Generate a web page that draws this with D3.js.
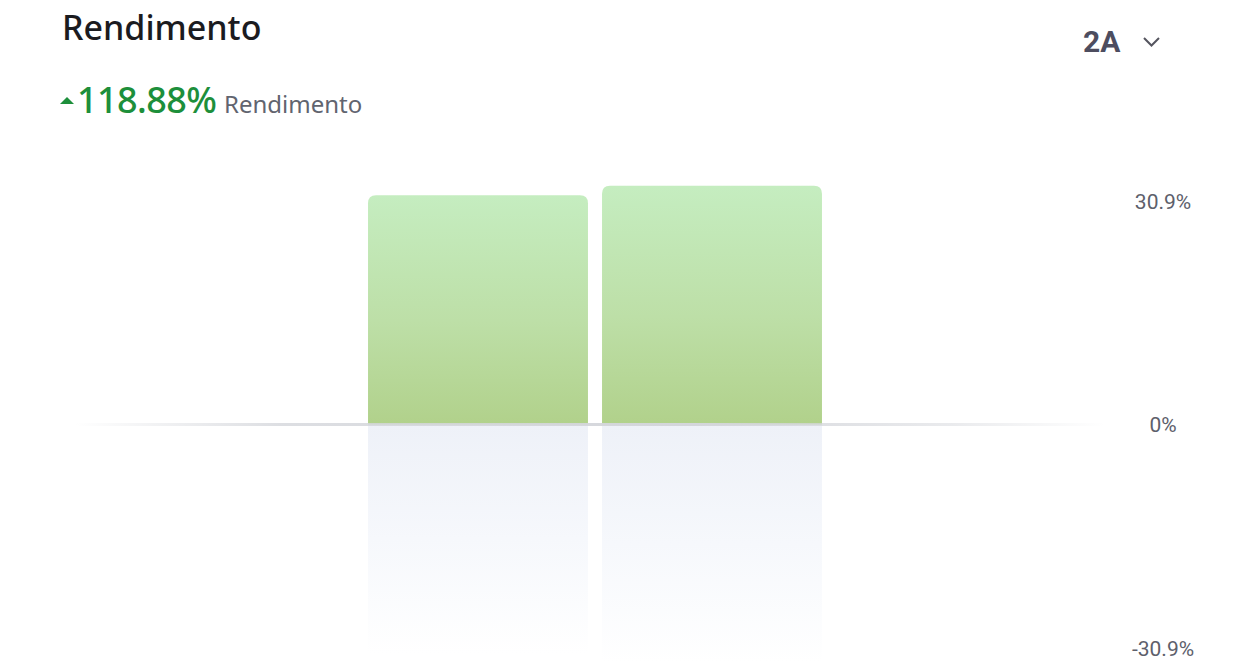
<!DOCTYPE html>
<html>
<head>
<meta charset="utf-8">
<script src="https://cdn.jsdelivr.net/npm/d3@7"></script>
<style>
  html, body { margin: 0; padding: 0; background: #ffffff; }
  svg { display: block; }
</style>
</head>
<body>
<svg id="chart" width="1256" height="668"></svg>
<script>
// ---- data ----
const categories = ["2023", "2024"];
const values = [31.7, 33.0];
const yTicks = [30.9, 0, -30.9];
const tickLabels = ["30.9%", "0%", "-30.9%"];
const titleText = "Rendimento";
const totalReturn = "118.88%";
const subtitleText = "Rendimento";
const periodLabel = "2A";

const svg = d3.select("#chart");

// scales
const y = d3.scaleLinear().domain([-30.9, 30.9]).range([648, 201]);
const x = d3.scaleBand().domain(categories).range([361, 829]).paddingInner(0.06).paddingOuter(0.03);

const defs = svg.append("defs");
const gBar = defs.append("linearGradient").attr("id", "barGrad").attr("x1", 0).attr("y1", 0).attr("x2", 0).attr("y2", 1);
gBar.append("stop").attr("offset", "0%").attr("stop-color", "#c5edc0");
gBar.append("stop").attr("offset", "55%").attr("stop-color", "#bddfa7");
gBar.append("stop").attr("offset", "100%").attr("stop-color", "#b1d18b");

const gRef = defs.append("linearGradient").attr("id", "refGrad").attr("x1", 0).attr("y1", 0).attr("x2", 0).attr("y2", 1);
gRef.append("stop").attr("offset", "0%").attr("stop-color", "#eef1f8");
gRef.append("stop").attr("offset", "50%").attr("stop-color", "#f6f8fc");
gRef.append("stop").attr("offset", "100%").attr("stop-color", "#ffffff");

const gLine = defs.append("linearGradient").attr("id", "lineGrad").attr("x1", 0).attr("y1", 0).attr("x2", 1).attr("y2", 0);
gLine.append("stop").attr("offset", "0%").attr("stop-color", "#d4d6db").attr("stop-opacity", 0);
gLine.append("stop").attr("offset", "20%").attr("stop-color", "#d4d6db").attr("stop-opacity", 0.8);
gLine.append("stop").attr("offset", "60%").attr("stop-color", "#d4d6db").attr("stop-opacity", 1);
gLine.append("stop").attr("offset", "85%").attr("stop-color", "#d4d6db").attr("stop-opacity", 0.5);
gLine.append("stop").attr("offset", "100%").attr("stop-color", "#d4d6db").attr("stop-opacity", 0);

// header
svg.append("text").attr("x", 62).attr("y", 40)
  .attr("font-family", "'Noto Sans', sans-serif").attr("font-size", 34).attr("font-weight", 500)
  .attr("fill", "#1b1b1f").text(titleText);

svg.append("path").attr("d", "M60,104 L67,97 L74,104 Z").attr("fill", "#1d8f3b");
svg.append("text").attr("x", 77).attr("y", 113)
  .attr("font-family", "'Noto Sans', sans-serif").attr("font-size", 36).attr("font-weight", 500)
  .attr("letter-spacing", -0.6)
  .attr("fill", "#1d8f3b").text(totalReturn);
svg.append("text").attr("x", 224).attr("y", 113)
  .attr("font-family", "'Noto Sans', sans-serif").attr("font-size", 24)
  .attr("fill", "#61646f").text(subtitleText);

svg.append("text").attr("x", 1083).attr("y", 52)
  .attr("font-family", "Roboto, sans-serif").attr("font-size", 30).attr("font-weight", 700)
  .attr("fill", "#4d4d5f").text(periodLabel);
svg.append("path").attr("d", "M1144,38 L1151.5,45.5 L1159,38")
  .attr("fill", "none").attr("stroke", "#55555f").attr("stroke-width", 2);

// reflections
svg.append("g").selectAll("rect").data(categories).join("rect")
  .attr("x", d => x(d))
  .attr("y", y(0))
  .attr("width", x.bandwidth())
  .attr("height", (d, i) => y(-values[i]) - y(0))
  .attr("fill", "url(#refGrad)");

// bars with rounded top corners
const r = 8;
svg.append("g").selectAll("path").data(categories).join("path")
  .attr("d", (d, i) => {
    const x0 = x(d), x1 = x(d) + x.bandwidth();
    const yt = y(values[i]), yb = y(0);
    return `M${x0},${yb} L${x0},${yt + r} Q${x0},${yt} ${x0 + r},${yt} L${x1 - r},${yt} Q${x1},${yt} ${x1},${yt + r} L${x1},${yb} Z`;
  })
  .attr("fill", "url(#barGrad)");

// zero line
svg.append("rect").attr("x", 75).attr("y", y(0) - 1.5).attr("width", 1030).attr("height", 3)
  .attr("fill", "url(#lineGrad)");

// y axis labels
const yAxis = d3.axisRight(y).tickValues(yTicks).tickSize(0)
  .tickFormat((d, i) => tickLabels[i]);
const ax = svg.append("g").attr("transform", "translate(1163,0)").call(yAxis);
ax.select(".domain").remove();
ax.selectAll("text")
  .attr("x", 0).attr("dy", "0.35em")
  .attr("text-anchor", "middle")
  .attr("font-family", "Roboto, sans-serif").attr("font-size", 21)
  .attr("fill", "#5d606b");
</script>
</body>
</html>
